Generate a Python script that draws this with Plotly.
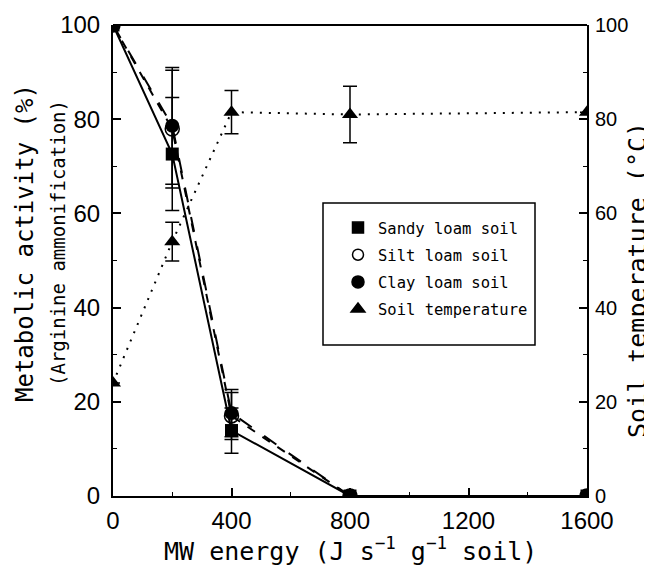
import plotly.graph_objects as go

energy = [0, 200, 400, 800, 1600]
sandy = [100, 72.6, 13.9, 0, 0]
sandy_err = [None, 12.0, 4.8, None, None]
silt = [100, 77.9, 17.0, 0, 0]
silt_err = [None, 12.5, 5.0, None, None]
clay = [100, 78.6, 17.6, 0, 0]
clay_err = [None, 12.4, 5.0, None, None]
temp = [24, 54, 81.5, 81, 81.5]
temp_err = [None, 4.1, 4.6, 6.0, None]

x_ticks = [0, 400, 800, 1200, 1600]
y_ticks = [0, 20, 40, 60, 80, 100]

MONO = "DejaVu Sans Mono"
SANS = "Liberation Sans"
BLACK = "black"

# page body adds an 8px offset; figure is sized so that the plot area lands at
# x 113..587, y 25..496 in the 652x570 window
OFF = 8
W, H = 652 - OFF, 570 - OFF
PL, PR, PT, PB = 113, 587, 25, 496

def err(arr):
    return dict(type="data", array=arr, visible=True, color=BLACK, thickness=1.5, width=7)

fig = go.Figure()

fig.add_trace(go.Scatter(x=energy, y=silt, mode="lines+markers", showlegend=False,
                         line=dict(color=BLACK, width=2, dash="dash"),
                         marker=dict(symbol="circle-open", size=14, color=BLACK, line=dict(width=1.5)),
                         error_y=err(silt_err)))
fig.add_trace(go.Scatter(x=energy, y=clay, mode="lines+markers", showlegend=False,
                         line=dict(color=BLACK, width=2, dash="longdash"),
                         marker=dict(symbol="circle", size=14, color=BLACK),
                         error_y=err(clay_err)))
fig.add_trace(go.Scatter(x=energy, y=sandy, mode="lines+markers", showlegend=False,
                         line=dict(color=BLACK, width=2),
                         marker=dict(symbol="square", size=13, color=BLACK),
                         error_y=err(sandy_err)))
fig.add_trace(go.Scatter(x=energy, y=temp, mode="lines+markers", showlegend=False, yaxis="y2",
                         line=dict(color=BLACK, width=2, dash="2px,7px"),
                         marker=dict(symbol="triangle-up", size=14, color=BLACK),
                         error_y=err(temp_err)))

# legend entries (markers only)
leg = [("Sandy loam soil", "square", 11), ("Silt loam soil", "circle-open", 11),
       ("Clay loam soil", "circle", 12), ("Soil temperature", "triangle-up", 12)]
for i, (name, sym, sz) in enumerate(leg):
    fig.add_trace(go.Scatter(x=[None], y=[None], mode="markers", name=name, legendgroup=str(i),
                             marker=dict(symbol=sym, size=sz, color=BLACK, line=dict(width=1.5, color=BLACK))))

axis_common = dict(showline=True, linecolor=BLACK, linewidth=2, ticks="inside", ticklen=8,
                   tickwidth=1.5, tickcolor=BLACK, showgrid=False, zeroline=False, mirror=False)
minor_y = dict(ticks="inside", ticklen=4, tickwidth=1, tickcolor=BLACK, dtick=10)

pw, ph = PR - PL, PB - PT

def px(x):
    return (x - PL) / pw

def py(y):
    return (PB - y) / ph

fig.update_layout(
    width=W, height=H,
    margin=dict(l=PL - OFF, r=W - (PR - OFF), t=PT - OFF, b=H - (PB - OFF), autoexpand=False),
    plot_bgcolor="white", paper_bgcolor="white",
    font=dict(family=MONO, color=BLACK, size=24),
    xaxis=dict(range=[0, 1600], tickvals=x_ticks,
               minor=dict(ticks="inside", ticklen=4, tickwidth=1, tickcolor=BLACK, dtick=200),
               tickfont=dict(size=24, family=SANS), ticklabelstandoff=2,
               **axis_common),
    yaxis=dict(range=[0, 100], tickvals=y_ticks, minor=minor_y,
               tickfont=dict(size=24, family=SANS), ticklabelstandoff=6,
               **axis_common),
    yaxis2=dict(range=[0, 100], overlaying="y", side="right", tickvals=y_ticks, minor=minor_y,
                tickfont=dict(size=20, family=SANS), ticklabelstandoff=2,
                **axis_common),
    legend=dict(x=px(338), y=py(211), xanchor="left", yanchor="top",
                bgcolor="rgba(0,0,0,0)", borderwidth=0, font=dict(size=15.5, family=MONO),
                tracegroupgap=4, itemwidth=30),
)
# legend frame
fig.add_shape(type="rect", xref="paper", yref="paper", layer="below",
              x0=px(323), x1=px(535), y0=py(345), y1=py(203),
              line=dict(color=BLACK, width=1.5), fillcolor="white")
# top frame line
fig.add_shape(type="line", xref="paper", yref="paper", x0=0, x1=1, y0=1, y1=1,
              line=dict(color=BLACK, width=2))

# axis titles
fig.add_annotation(text="MW energy (J s<sup>−1</sup> g<sup>−1</sup> soil)", xref="paper", yref="paper",
                   x=0.5, y=py(549), xanchor="center", yanchor="middle", showarrow=False,
                   font=dict(size=25, family=MONO))
fig.add_annotation(text="Metabolic activity (%)", xref="paper", yref="paper", textangle=-90,
                   x=px(25), y=py(243), xanchor="center", yanchor="middle", borderpad=0,
                   showarrow=False, font=dict(size=24, family=MONO))
fig.add_annotation(text="(Arginine ammonification)", xref="paper", yref="paper", textangle=-90,
                   x=px(58), y=py(243), xanchor="center", yanchor="middle", borderpad=0,
                   showarrow=False, font=dict(size=19, family=MONO))
fig.add_annotation(text="Soil temperature (°C)", xref="paper", yref="paper", textangle=-90,
                   x=px(637), y=py(280), xanchor="center", yanchor="middle", borderpad=0,
                   showarrow=False, font=dict(size=25, family=MONO))

fig.write_html("out.html")
